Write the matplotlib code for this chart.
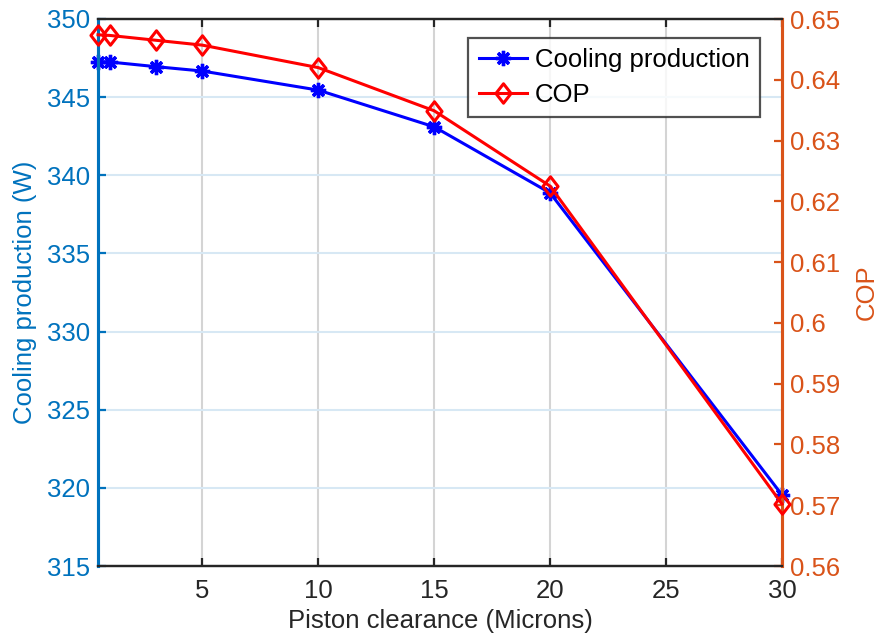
import matplotlib
matplotlib.use("Agg")
import matplotlib.pyplot as plt
from matplotlib.path import Path

plt.rcParams['font.family'] = ['Liberation Sans', 'DejaVu Sans']

clearance = [0.5, 1, 3, 5, 10, 15, 20, 30]
cooling = [347.27, 347.25, 346.95, 346.67, 345.45, 343.1, 338.87, 319.55]
cop = [0.6474, 0.6473, 0.6465, 0.6457, 0.6420, 0.6349, 0.6225, 0.5702]

xticks = [5, 10, 15, 20, 25, 30]
yticks_left = [315, 320, 325, 330, 335, 340, 345, 350]
yticks_right = [0.56, 0.57, 0.58, 0.59, 0.60, 0.61, 0.62, 0.63, 0.64, 0.65]
yticklabels_right = ['0.56', '0.57', '0.58', '0.59', '0.6', '0.61', '0.62', '0.63', '0.64', '0.65']

C_LEFT = '#0072BD'
C_RIGHT = '#D95319'
C_AX = '#262626'
FS = 18.5

fig = plt.figure(figsize=(8.77, 6.4), dpi=100)
ax1 = fig.add_axes([98/877, 1-566/640, (782-98)/877, (566-19)/640])
ax2 = ax1.twinx()

diamond = Path([(0, 1), (0.78, 0), (0, -1), (-0.78, 0), (0, 1)],
               [Path.MOVETO, Path.LINETO, Path.LINETO, Path.LINETO, Path.CLOSEPOLY])

l1, = ax1.plot(clearance, cooling, color='blue', lw=2.2, marker=(8, 2, 0),
               markersize=11, markeredgewidth=2.4, clip_on=False, zorder=3)
l2, = ax2.plot(clearance, cop, color='red', lw=2.2, marker=diamond,
               markersize=14, markeredgewidth=2.2, markerfacecolor='none',
               clip_on=False, zorder=3)

ax1.set_xlim(0.5, 30)
ax1.set_ylim(315, 350)
ax2.set_ylim(0.56, 0.65)
ax1.set_xticks(xticks)
ax1.set_yticks(yticks_left)
ax2.set_yticks(yticks_right)
ax2.set_yticklabels(yticklabels_right)

# grids
for x in xticks[:-1]:
    ax1.axvline(x, color='#d4d4d4', lw=1.5, zorder=0)
for y in yticks_left[1:-1]:
    ax1.axhline(y, color='#d7e8f4', lw=1.5, zorder=0)

# spines
for ax in (ax1, ax2):
    ax.spines['top'].set_color(C_AX)
    ax.spines['bottom'].set_color(C_AX)
    ax.spines['top'].set_linewidth(1.6)
    ax.spines['bottom'].set_linewidth(1.6)
    ax.spines['left'].set_color(C_LEFT)
    ax.spines['right'].set_color(C_RIGHT)
    ax.spines['left'].set_linewidth(2.2)
    ax.spines['right'].set_linewidth(2.2)

ax1.tick_params(axis='x', direction='in', length=6, width=1.6, colors=C_AX,
                labelsize=FS, top=True, pad=9)
ax1.tick_params(axis='y', direction='in', length=6, width=1.6, colors=C_LEFT,
                labelsize=FS, pad=6)
ax2.tick_params(axis='y', direction='in', length=6, width=1.6, colors=C_RIGHT,
                labelsize=FS, pad=6)

ax1.set_xlabel('Piston clearance (Microns)', fontsize=FS, color=C_AX, labelpad=5)
ax1.set_ylabel('Cooling production (W)', fontsize=FS, color=C_LEFT, labelpad=7)
ax2.set_ylabel('COP', fontsize=FS, color=C_RIGHT, labelpad=10)

ax1.set_zorder(1)
ax2.set_zorder(2)
ax1.patch.set_visible(True)
ax2.patch.set_visible(False)

leg = ax2.legend([l1, l2], ['Cooling production', 'COP'], loc='upper right',
                 bbox_to_anchor=(0.968, 0.965), borderaxespad=0, fontsize=FS,
                 frameon=True, fancybox=False, handlelength=1.9,
                 handletextpad=0.3, borderpad=0.4, labelspacing=0.4)
leg.get_frame().set_edgecolor(C_AX)
leg.get_frame().set_linewidth(1.6)

fig.savefig('out.png', dpi=100)
